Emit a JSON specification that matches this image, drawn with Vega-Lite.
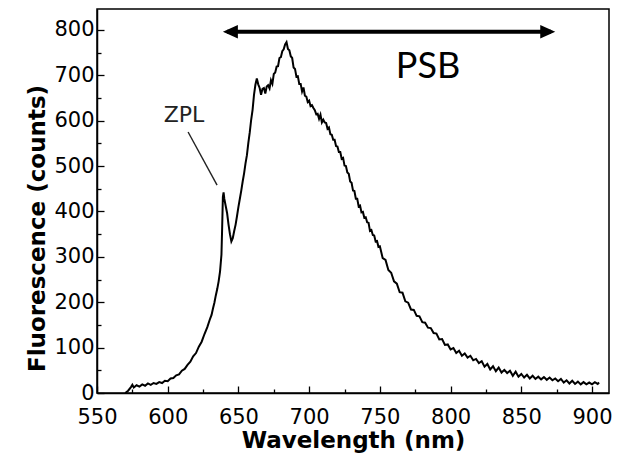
{
  "$schema": "https://vega.github.io/schema/vega-lite/v6.json",
  "width": 512,
  "height": 384,
  "autosize": "none",
  "padding": {"left": 97, "top": 9, "right": 19, "bottom": 60},
  "background": "white",
  "config": {
    "view": {"stroke": "black", "strokeWidth": 1.5},
    "axis": {"grid": false, "domainColor": "black", "tickColor": "black", "labelColor": "black", "titleColor": "black", "domainWidth": 1.5, "tickWidth": 1.3}
  },
  "datasets": {
    "spectrum": [
      {"wl":570,"counts":0},{"wl":572,"counts":5},{"wl":574,"counts":13},{"wl":575,"counts":18},{"wl":576,"counts":12},{"wl":578,"counts":17},{"wl":580,"counts":14},{"wl":582,"counts":19},{"wl":584,"counts":16},{"wl":586,"counts":21},{"wl":588,"counts":18},{"wl":590,"counts":22},{"wl":592,"counts":20},{"wl":594,"counts":24},{"wl":596,"counts":22},{"wl":598,"counts":27},{"wl":600,"counts":26},{"wl":602,"counts":32},{"wl":604,"counts":33},{"wl":606,"counts":39},{"wl":608,"counts":41},{"wl":610,"counts":49},{"wl":612,"counts":53},{"wl":614,"counts":62},{"wl":616,"counts":69},{"wl":618,"counts":81},{"wl":620,"counts":88},{"wl":622,"counts":102},{"wl":624,"counts":113},{"wl":626,"counts":130},{"wl":628,"counts":145},{"wl":630,"counts":164},{"wl":631,"counts":172},{"wl":632,"counts":186},{"wl":633,"counts":199},{"wl":634,"counts":215},{"wl":635,"counts":229},{"wl":636,"counts":246},{"wl":637,"counts":268},{"wl":638,"counts":305},{"wl":638.5,"counts":365},{"wl":639,"counts":432},{"wl":639.5,"counts":442},{"wl":640,"counts":428},{"wl":641,"counts":412},{"wl":642,"counts":396},{"wl":643,"counts":371},{"wl":644,"counts":350},{"wl":645,"counts":334},{"wl":646,"counts":341},{"wl":647,"counts":357},{"wl":648,"counts":371},{"wl":649,"counts":390},{"wl":650,"counts":410},{"wl":651,"counts":428},{"wl":652,"counts":446},{"wl":653,"counts":466},{"wl":654,"counts":484},{"wl":655,"counts":506},{"wl":656,"counts":524},{"wl":657,"counts":551},{"wl":658,"counts":574},{"wl":659,"counts":602},{"wl":660,"counts":624},{"wl":661,"counts":657},{"wl":662,"counts":679},{"wl":663,"counts":693},{"wl":664,"counts":680},{"wl":665,"counts":672},{"wl":666,"counts":657},{"wl":667,"counts":670},{"wl":668,"counts":672},{"wl":669,"counts":660},{"wl":670,"counts":675},{"wl":671,"counts":678},{"wl":672,"counts":671},{"wl":673,"counts":689},{"wl":674,"counts":681},{"wl":675,"counts":703},{"wl":676,"counts":706},{"wl":677,"counts":719},{"wl":678,"counts":720},{"wl":679,"counts":738},{"wl":680,"counts":740},{"wl":681,"counts":753},{"wl":682,"counts":757},{"wl":683,"counts":768},{"wl":684,"counts":773},{"wl":685,"counts":758},{"wl":686,"counts":755},{"wl":687,"counts":742},{"wl":688,"counts":738},{"wl":689,"counts":717},{"wl":690,"counts":714},{"wl":691,"counts":697},{"wl":692,"counts":698},{"wl":693,"counts":681},{"wl":694,"counts":681},{"wl":695,"counts":664},{"wl":696,"counts":673},{"wl":697,"counts":655},{"wl":698,"counts":653},{"wl":699,"counts":641},{"wl":700,"counts":644},{"wl":701,"counts":632},{"wl":702,"counts":634},{"wl":703,"counts":628},{"wl":704,"counts":623},{"wl":705,"counts":614},{"wl":706,"counts":615},{"wl":707,"counts":604},{"wl":708,"counts":613},{"wl":709,"counts":596},{"wl":710,"counts":602},{"wl":711,"counts":596},{"wl":712,"counts":595},{"wl":713,"counts":582},{"wl":714,"counts":585},{"wl":715,"counts":570},{"wl":716,"counts":569},{"wl":717,"counts":558},{"wl":718,"counts":558},{"wl":719,"counts":544},{"wl":720,"counts":543},{"wl":721,"counts":531},{"wl":722,"counts":531},{"wl":723,"counts":516},{"wl":724,"counts":518},{"wl":725,"counts":501},{"wl":726,"counts":500},{"wl":727,"counts":486},{"wl":728,"counts":483},{"wl":729,"counts":466},{"wl":730,"counts":463},{"wl":731,"counts":446},{"wl":732,"counts":445},{"wl":733,"counts":428},{"wl":734,"counts":428},{"wl":735,"counts":411},{"wl":736,"counts":413},{"wl":737,"counts":398},{"wl":738,"counts":399},{"wl":739,"counts":386},{"wl":740,"counts":387},{"wl":741,"counts":376},{"wl":742,"counts":375},{"wl":743,"counts":357},{"wl":744,"counts":359},{"wl":745,"counts":348},{"wl":746,"counts":347},{"wl":747,"counts":334},{"wl":748,"counts":335},{"wl":749,"counts":322},{"wl":750,"counts":323},{"wl":752,"counts":297},{"wl":754,"counts":293},{"wl":756,"counts":271},{"wl":758,"counts":265},{"wl":760,"counts":246},{"wl":762,"counts":241},{"wl":764,"counts":222},{"wl":766,"counts":221},{"wl":768,"counts":202},{"wl":770,"counts":199},{"wl":772,"counts":184},{"wl":774,"counts":183},{"wl":776,"counts":170},{"wl":778,"counts":169},{"wl":780,"counts":156},{"wl":782,"counts":155},{"wl":784,"counts":144},{"wl":786,"counts":143},{"wl":788,"counts":132},{"wl":790,"counts":131},{"wl":792,"counts":118},{"wl":794,"counts":119},{"wl":796,"counts":106},{"wl":798,"counts":107},{"wl":800,"counts":96},{"wl":802,"counts":99},{"wl":804,"counts":88},{"wl":806,"counts":93},{"wl":808,"counts":82},{"wl":810,"counts":87},{"wl":812,"counts":78},{"wl":814,"counts":82},{"wl":816,"counts":72},{"wl":818,"counts":75},{"wl":820,"counts":66},{"wl":822,"counts":70},{"wl":824,"counts":58},{"wl":826,"counts":64},{"wl":828,"counts":52},{"wl":830,"counts":59},{"wl":832,"counts":48},{"wl":834,"counts":56},{"wl":836,"counts":45},{"wl":838,"counts":51},{"wl":840,"counts":44},{"wl":842,"counts":49},{"wl":844,"counts":38},{"wl":846,"counts":47},{"wl":848,"counts":36},{"wl":850,"counts":42},{"wl":852,"counts":34},{"wl":854,"counts":40},{"wl":856,"counts":32},{"wl":858,"counts":38},{"wl":860,"counts":31},{"wl":862,"counts":36},{"wl":864,"counts":30},{"wl":866,"counts":35},{"wl":868,"counts":29},{"wl":870,"counts":34},{"wl":872,"counts":28},{"wl":874,"counts":32},{"wl":876,"counts":26},{"wl":878,"counts":31},{"wl":880,"counts":23},{"wl":882,"counts":28},{"wl":884,"counts":21},{"wl":886,"counts":27},{"wl":888,"counts":20},{"wl":890,"counts":25},{"wl":892,"counts":19},{"wl":894,"counts":24},{"wl":896,"counts":19},{"wl":898,"counts":23},{"wl":900,"counts":19},{"wl":902,"counts":24},{"wl":904,"counts":20},{"wl":905,"counts":23}
    ],
    "zplLine": [{"wl": 614.4, "counts": 575, "wl2": 634.9, "counts2": 458}],
    "arrow": [{"wl": 642, "wl2": 871, "counts": 796}],
    "heads": [{"wl": 639, "counts": 796, "side": "L"}, {"wl": 874, "counts": 796, "side": "R"}],
    "labels": [
      {"wl": 784, "counts": 718, "text": "PSB", "kind": "psb"},
      {"wl": 611.5, "counts": 613, "text": "ZPL", "kind": "zpl"}
    ]
  },
  "layer": [
    {
      "data": {"name": "spectrum"},
      "mark": {"type": "line", "color": "black", "strokeWidth": 2, "strokeJoin": "miter"},
      "encoding": {
        "x": {"field": "wl", "type": "quantitative", "scale": {"domain": [550, 912], "nice": false, "zero": false},
          "axis": {"orient": "bottom", "values": [550, 600, 650, 700, 750, 800, 850, 900], "tickSize": -7, "labelPadding": 20, "labelFlush": false, "labelFont": "DejaVu Sans", "labelFontSize": 21, "title": "Wavelength (nm)", "titleFont": "DejaVu Sans", "titleFontWeight": "bold", "titleFontSize": 23, "titlePadding": 2}},
        "y": {"field": "counts", "type": "quantitative", "scale": {"domain": [0, 846], "nice": false, "zero": false},
          "axis": {"orient": "left", "values": [0, 100, 200, 300, 400, 500, 600, 700, 800], "tickSize": -7, "labelPadding": 10, "labelFont": "DejaVu Sans", "labelFontSize": 21, "title": "Fluorescence (counts)", "titleFont": "DejaVu Sans", "titleFontWeight": "bold", "titleFontSize": 23, "titlePadding": 4, "titleY": 219}}
      }
    },
    {
      "data": {"name": "zplLine"},
      "mark": {"type": "rule", "color": "#222222", "strokeWidth": 1.4},
      "encoding": {
        "x": {"field": "wl", "type": "quantitative", "scale": {"domain": [550, 912], "nice": false, "zero": false},
          "axis": {"orient": "bottom", "values": [575, 625, 675, 725, 775, 825, 875], "tickSize": -4, "labels": false, "domain": false, "title": null}},
        "x2": {"field": "wl2"},
        "y": {"field": "counts", "type": "quantitative", "scale": {"domain": [0, 846], "nice": false, "zero": false},
          "axis": {"orient": "left", "values": [50, 150, 250, 350, 450, 550, 650, 750], "tickSize": -4, "labels": false, "domain": false, "title": null}},
        "y2": {"field": "counts2"}
      }
    },
    {
      "data": {"name": "arrow"},
      "mark": {"type": "rule", "color": "black", "strokeWidth": 4},
      "encoding": {
        "x": {"field": "wl", "type": "quantitative", "axis": null},
        "x2": {"field": "wl2"},
        "y": {"field": "counts", "type": "quantitative", "axis": null}
      }
    },
    {
      "data": {"name": "heads"},
      "mark": {"type": "point", "filled": true, "color": "black", "opacity": 1, "size": 225, "strokeWidth": 0},
      "encoding": {
        "x": {"field": "wl", "type": "quantitative", "axis": null},
        "y": {"field": "counts", "type": "quantitative", "axis": null},
        "shape": {"field": "side", "type": "nominal", "legend": null,
          "scale": {"domain": ["L", "R"], "range": ["M 0 0 L 2 -0.9 L 2 0.9 Z", "M 0 0 L -2 -0.9 L -2 0.9 Z"]}}
      }
    },
    {
      "data": {"name": "labels"},
      "transform": [{"filter": "datum.kind === 'psb'"}],
      "mark": {"type": "text", "font": "Lato", "fontSize": 36, "color": "black", "align": "center", "baseline": "middle"},
      "encoding": {
        "x": {"field": "wl", "type": "quantitative", "axis": null},
        "y": {"field": "counts", "type": "quantitative", "axis": null},
        "text": {"field": "text"}
      }
    },
    {
      "data": {"name": "labels"},
      "transform": [{"filter": "datum.kind === 'zpl'"}],
      "mark": {"type": "text", "font": "DejaVu Sans", "fontSize": 22, "color": "#222222", "align": "center", "baseline": "middle"},
      "encoding": {
        "x": {"field": "wl", "type": "quantitative", "axis": null},
        "y": {"field": "counts", "type": "quantitative", "axis": null},
        "text": {"field": "text"}
      }
    }
  ],
  "resolve": {"axis": {"x": "independent", "y": "independent"}}
}
